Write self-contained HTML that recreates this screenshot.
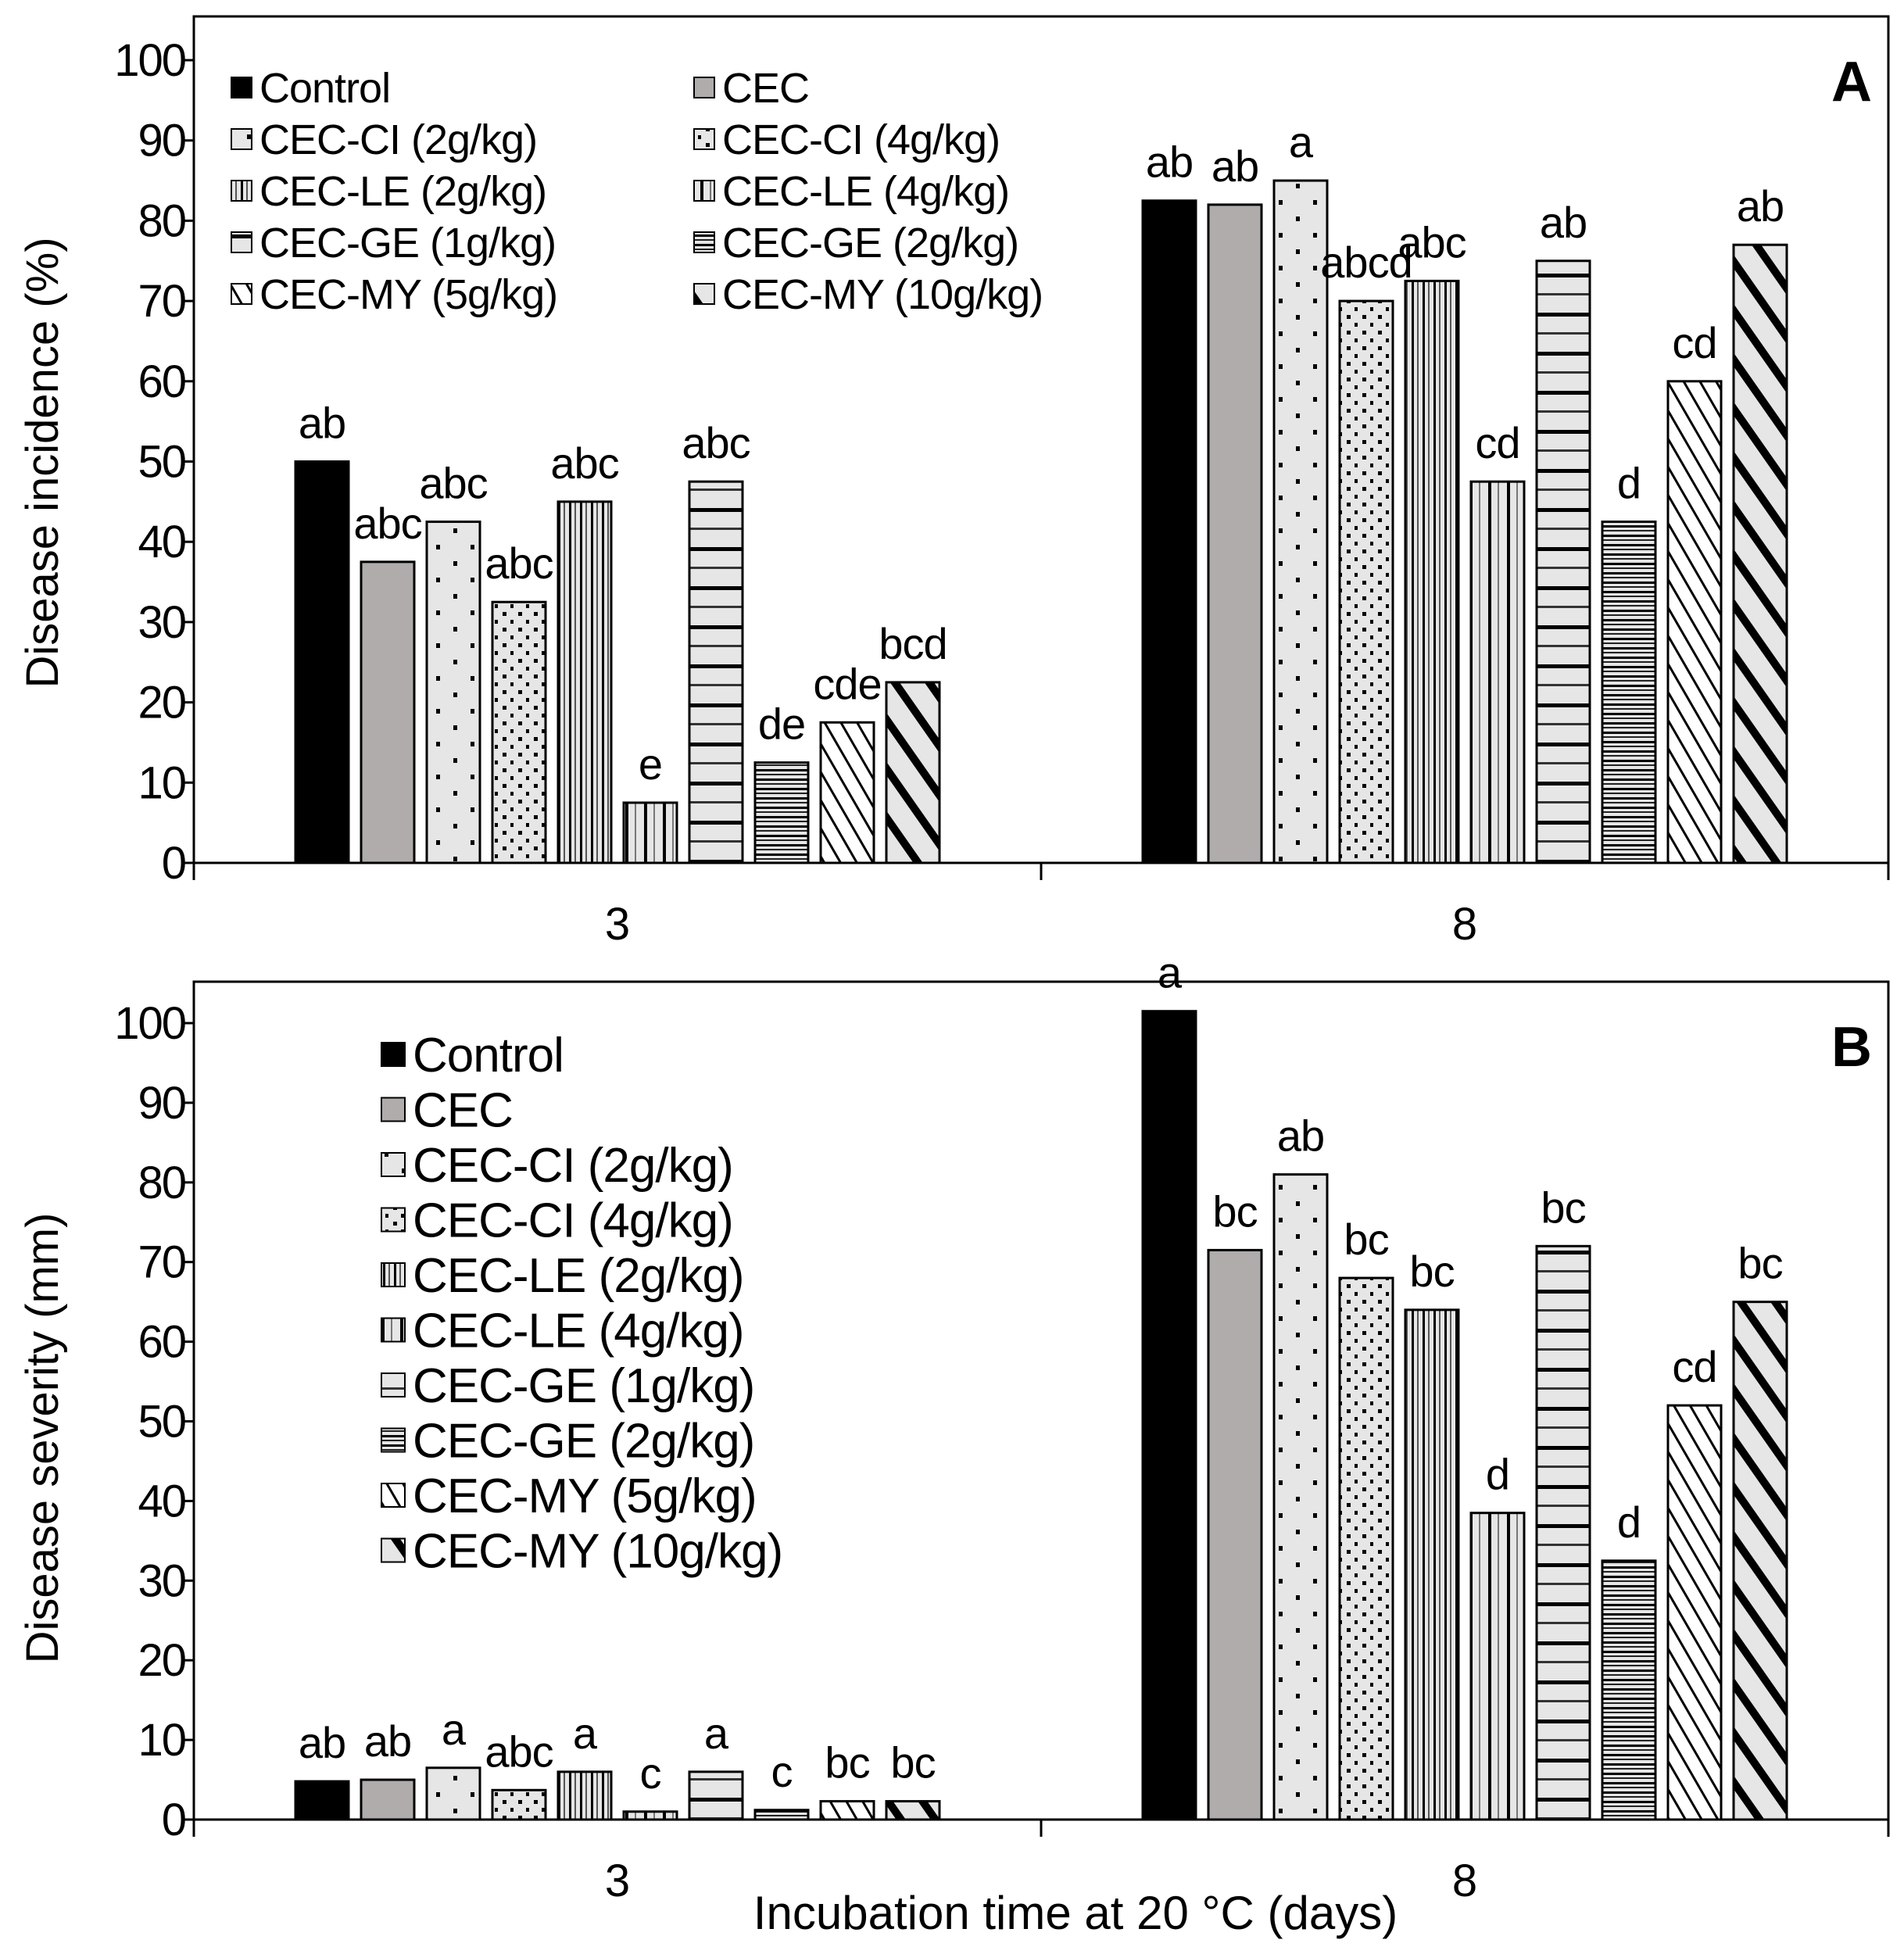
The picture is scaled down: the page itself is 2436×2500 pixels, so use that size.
<!DOCTYPE html>
<html><head><meta charset="utf-8"><style>
html,body{margin:0;padding:0;background:#fff;}
svg{display:block;font-family:"Liberation Sans",Arial,sans-serif;}
</style></head><body>
<svg id="chart" width="2436" height="2500" viewBox="0 0 2436 2500" xmlns="http://www.w3.org/2000/svg">
<defs>
<pattern id="p0" width="10" height="10" patternUnits="userSpaceOnUse"><rect width="10" height="10" fill="#000"/></pattern>
<pattern id="p1" width="10" height="10" patternUnits="userSpaceOnUse"><rect width="10" height="10" fill="#b0acac"/></pattern>
<pattern id="p2" width="44" height="42" patternUnits="userSpaceOnUse"><rect width="44" height="42" fill="#e6e6e6"/><rect x="8" y="4" width="5" height="6" fill="#000"/><rect x="30" y="25" width="5" height="6" fill="#000"/></pattern>
<pattern id="p3" width="20" height="20" patternUnits="userSpaceOnUse"><rect width="20" height="20" fill="#e6e6e6"/><rect x="3" y="3" width="5" height="5" fill="#000"/><rect x="13" y="13" width="4" height="5" fill="#000"/></pattern>
<pattern id="p4" width="14" height="10" patternUnits="userSpaceOnUse"><rect width="14" height="10" fill="#e6e6e6"/><rect x="0" width="3" height="10" fill="#000"/><rect x="7" width="2" height="10" fill="#555"/></pattern>
<pattern id="p5" width="24" height="10" patternUnits="userSpaceOnUse"><rect width="24" height="10" fill="#e6e6e6"/><rect x="8" width="4" height="10" fill="#000"/><rect x="20" width="2" height="10" fill="#777"/></pattern>
<pattern id="p6" width="10" height="50" patternUnits="userSpaceOnUse"><rect width="10" height="50" fill="#e6e6e6"/><rect y="0" width="10" height="5" fill="#000"/><rect y="25" width="10" height="3" fill="#333"/></pattern>
<pattern id="p7" width="10" height="12" patternUnits="userSpaceOnUse"><rect width="10" height="12" fill="#e6e6e6"/><rect y="0" width="10" height="3" fill="#000"/><rect y="6" width="10" height="2" fill="#222"/></pattern>
<pattern id="p8" width="18" height="18" patternUnits="userSpaceOnUse" patternTransform="rotate(-30)"><rect width="18" height="18" fill="#fff"/><rect x="0" width="3" height="18" fill="#000"/></pattern>
<pattern id="p9" width="36" height="36" patternUnits="userSpaceOnUse" patternTransform="rotate(-35)"><rect width="36" height="36" fill="#e6e6e6"/><rect x="0" width="10" height="36" fill="#000"/></pattern>
</defs>
<g id="root"></g>
</svg>
<script>
const series = ["Control","CEC","CEC-CI (2g/kg)","CEC-CI (4g/kg)","CEC-LE (2g/kg)","CEC-LE (4g/kg)","CEC-GE (1g/kg)","CEC-GE (2g/kg)","CEC-MY (5g/kg)","CEC-MY (10g/kg)"];
const categories = ["3","8"];
const yTicks = [0,10,20,30,40,50,60,70,80,90,100];
const incidenceDay3 = [50,37.5,42.5,32.5,45,7.5,47.5,12.5,17.5,22.5];
const incidenceDay8 = [82.5,82,85,70,72.5,47.5,75,42.5,60,77];
const incidenceLetters3 = ["ab","abc","abc","abc","abc","e","abc","de","cde","bcd"];
const incidenceLetters8 = ["ab","ab","a","abcd","abc","cd","ab","d","cd","ab"];
const severityDay3 = [4.8,5,6.5,3.7,6,1,6,1.2,2.3,2.3];
const severityDay8 = [101.5,71.5,81,68,64,38.5,72,32.5,52,65];
const severityLetters3 = ["ab","ab","a","abc","a","c","a","c","bc","bc"];
const severityLetters8 = ["a","bc","ab","bc","bc","d","bc","d","cd","bc"];

const NS="http://www.w3.org/2000/svg";
const root=document.getElementById('root');
function mk(tag,attrs,parent){const e=document.createElementNS(NS,tag);for(const k in attrs)e.setAttribute(k,attrs[k]);(parent||root).appendChild(e);return e;}

function panel(cfg){
  const g=mk('g',{});
  
  
  const L=248,R=2416;
  const y=v=>cfg.y0-(cfg.y0-cfg.y100)*v/100;
  const catX=i=>L+(R-L)*(i+0.5)/categories.length;
  const fr=mk('rect',{x:L,y:cfg.top,width:R-L,height:cfg.y0-cfg.top,fill:'none',stroke:'#000','stroke-width':3},g);
  
  
  yTicks.forEach(t=>{
    mk('line',{x1:L-14,x2:L,y1:y(t),y2:y(t),stroke:'#000','stroke-width':3},g);
    const tx=mk('text',{x:237,y:y(t)+20,'text-anchor':'end','font-size':58,'letter-spacing':-2,fill:'#000'},g);
    tx.textContent=t;
    
    
  });
  [L,(L+R)/2,R].forEach(x=>mk('line',{x1:x,x2:x,y1:cfg.y0,y2:cfg.y0+22,stroke:'#000','stroke-width':3},g));
  categories.forEach((c,i)=>{
    const t=mk('text',{x:catX(i),y:cfg.y0+98,'text-anchor':'middle','font-size':58},g);
    t.textContent=c;
    
    
  });
  const yt=mk('text',{x:0,y:0,'text-anchor':'middle','font-size':58,transform:`translate(${cfg.ytx},${cfg.ytcy}) rotate(-90)`},g);
  yt.textContent=cfg.ytitle;
  
  
  const pl=mk('text',{x:2395,y:cfg.top+108,'text-anchor':'end','font-size':72,'font-weight':'bold'},g);
  pl.textContent=cfg.letter;
  
  
  const pitch=84,bw=68;
  [cfg.d3,cfg.d8].forEach((vals,ci)=>{
    const letters=ci===0?cfg.l3:cfg.l8;
    vals.forEach((v,si)=>{
      const x=catX(ci)-pitch*5+pitch*si+(pitch-bw)/2;
      const b=mk('rect',{x:x,y:y(v),width:bw,height:y(0)-y(v),fill:`url(#p${si})`,stroke:'#000','stroke-width':3},g);
      
      
      const t=mk('text',{x:x+bw/2,y:y(v)-30,'text-anchor':'middle','font-size':56,'letter-spacing':-1},g);
      t.textContent=letters[si];
      
      
    });
  });
  const lg=mk('g',{},g);
  
  
  series.forEach((s,i)=>{
    let lx,ly;
    if(cfg.legendCols===2){lx=i%2?888:296;ly=112+Math.floor(i/2)*66;}
    else{lx=488;ly=1349+i*70.5;}
    const sz=cfg.legendCols===2?26:30;
    const e=mk('g',{},lg);
    
    
    mk('rect',{x:lx,y:ly-sz/2,width:sz,height:sz,fill:`url(#p${i})`,stroke:'#000','stroke-width':2},e);
    const t=mk('text',{x:lx+sz+10,y:ly+(cfg.legendCols===2?19:22),'font-size':cfg.legendCols===2?54:62,'letter-spacing':-1},e);
    t.textContent=s;
  });
}
panel({name:'panel-a-incidence',top:21,y0:1104,y100:77,ytitle:'Disease incidence (%)',ytx:74,ytcy:592,letter:'A',d3:incidenceDay3,d8:incidenceDay8,l3:incidenceLetters3,l8:incidenceLetters8,legendCols:2});
panel({name:'panel-b-severity',top:1256,y0:2328,y100:1309,ytitle:'Disease severity (mm)',ytx:74,ytcy:1840,letter:'B',d3:severityDay3,d8:severityDay8,l3:severityLetters3,l8:severityLetters8,legendCols:1});
const xt=mk('text',{x:1376,y:2468,'text-anchor':'middle','font-size':60});
xt.textContent='Incubation time at 20 °C (days)';


</script>
</body></html>
